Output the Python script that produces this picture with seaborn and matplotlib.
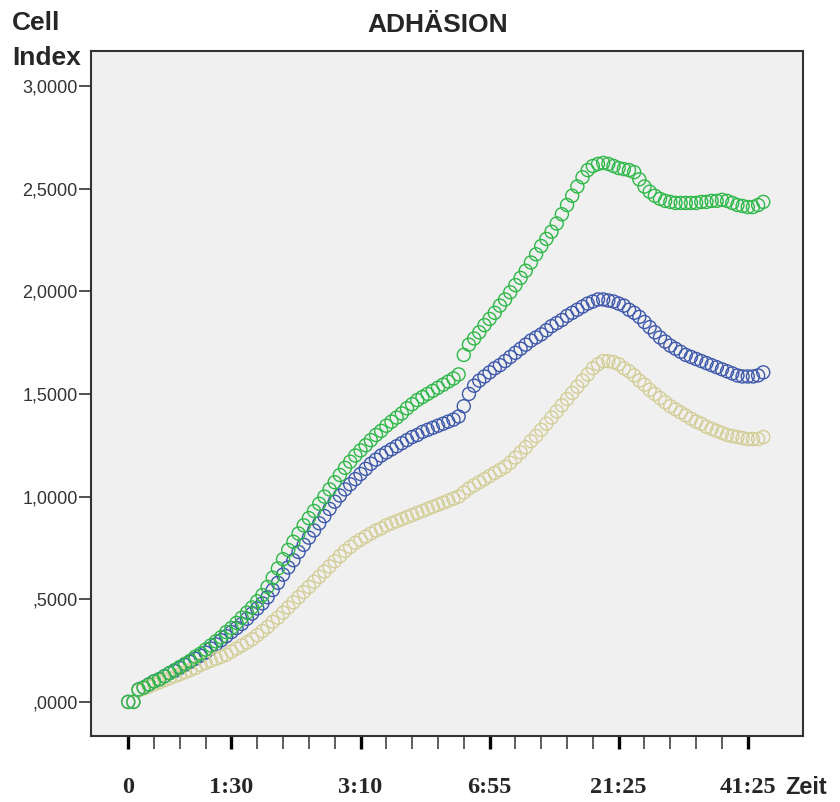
import numpy as np
import pandas as pd
import seaborn as sns
import matplotlib.pyplot as plt
from matplotlib.ticker import FixedLocator, FuncFormatter

# Cell index per sweep (one value per measurement point)
green = [0.00, 0.00, 0.06, 0.07, 0.085, 0.10, 0.11, 0.125, 0.14, 0.155,
         0.17, 0.185, 0.20, 0.22, 0.235, 0.255, 0.275, 0.295, 0.315, 0.34,
         0.36, 0.385, 0.41, 0.435, 0.46, 0.49, 0.52, 0.56, 0.605, 0.65,
         0.695, 0.74, 0.78, 0.82, 0.86, 0.895, 0.93, 0.965, 1.00, 1.035,
         1.07, 1.105, 1.14, 1.17, 1.20, 1.225, 1.25, 1.275, 1.30, 1.32,
         1.345, 1.365, 1.385, 1.405, 1.43, 1.45, 1.47, 1.485, 1.50, 1.515,
         1.53, 1.545, 1.56, 1.575, 1.595, 1.69, 1.74, 1.77, 1.80, 1.835,
         1.865, 1.895, 1.93, 1.96, 1.995, 2.03, 2.065, 2.10, 2.14, 2.18,
         2.22, 2.255, 2.29, 2.33, 2.375, 2.42, 2.465, 2.51, 2.555, 2.59,
         2.61, 2.62, 2.625, 2.62, 2.61, 2.60, 2.595, 2.59, 2.58, 2.545,
         2.51, 2.485, 2.465, 2.45, 2.44, 2.435, 2.43, 2.43, 2.43, 2.43,
         2.43, 2.435, 2.435, 2.44, 2.44, 2.445, 2.44, 2.43, 2.42, 2.415,
         2.41, 2.41, 2.42, 2.435]

blue = [0.00, 0.00, 0.06, 0.07, 0.085, 0.10, 0.11, 0.125, 0.14, 0.15,
        0.165, 0.18, 0.195, 0.21, 0.225, 0.24, 0.26, 0.28, 0.30, 0.32,
        0.34, 0.36, 0.38, 0.405, 0.43, 0.455, 0.48, 0.51, 0.545, 0.58,
        0.62, 0.655, 0.69, 0.73, 0.765, 0.80, 0.835, 0.87, 0.905, 0.94,
        0.975, 1.005, 1.035, 1.06, 1.085, 1.11, 1.135, 1.16, 1.18, 1.20,
        1.215, 1.23, 1.245, 1.26, 1.275, 1.29, 1.30, 1.315, 1.325, 1.335,
        1.345, 1.355, 1.365, 1.375, 1.39, 1.44, 1.50, 1.54, 1.565, 1.585,
        1.605, 1.625, 1.64, 1.66, 1.68, 1.70, 1.72, 1.74, 1.76, 1.775,
        1.79, 1.81, 1.83, 1.845, 1.86, 1.88, 1.895, 1.91, 1.925, 1.94,
        1.95, 1.96, 1.96, 1.955, 1.95, 1.94, 1.93, 1.91, 1.895, 1.875,
        1.85, 1.825, 1.80, 1.775, 1.755, 1.735, 1.72, 1.705, 1.69, 1.68,
        1.67, 1.66, 1.65, 1.64, 1.63, 1.62, 1.61, 1.60, 1.59, 1.585,
        1.585, 1.585, 1.59, 1.605]

beige = [0.00, 0.00, 0.055, 0.065, 0.075, 0.085, 0.095, 0.105, 0.115, 0.125,
         0.135, 0.145, 0.155, 0.165, 0.18, 0.19, 0.20, 0.21, 0.22, 0.23,
         0.245, 0.26, 0.275, 0.29, 0.305, 0.325, 0.345, 0.365, 0.39, 0.41,
         0.435, 0.46, 0.485, 0.51, 0.535, 0.56, 0.585, 0.61, 0.635, 0.66,
         0.685, 0.71, 0.735, 0.755, 0.775, 0.79, 0.805, 0.82, 0.835, 0.845,
         0.86, 0.87, 0.88, 0.89, 0.90, 0.91, 0.92, 0.93, 0.94, 0.95,
         0.96, 0.97, 0.98, 0.99, 1.00, 1.02, 1.04, 1.055, 1.07, 1.085,
         1.10, 1.115, 1.13, 1.145, 1.165, 1.19, 1.215, 1.24, 1.27, 1.295,
         1.325, 1.355, 1.385, 1.415, 1.445, 1.475, 1.505, 1.535, 1.565, 1.595,
         1.625, 1.645, 1.66, 1.66, 1.655, 1.645, 1.625, 1.61, 1.59, 1.565,
         1.545, 1.52, 1.50, 1.48, 1.46, 1.44, 1.425, 1.41, 1.395, 1.38,
         1.365, 1.355, 1.34, 1.33, 1.32, 1.31, 1.30, 1.295, 1.29, 1.285,
         1.28, 1.28, 1.28, 1.29]

# x axis: measurement index, labelled time points
time_labels = ["0", "1:30", "3:10", "6:55", "21:25", "41:25"]
label_pos = [0, 20, 45, 70, 95, 120]
y_ticks = [0.0, 0.5, 1.0, 1.5, 2.0, 2.5, 3.0]

sns.set_theme(style="white")
plt.rcParams["font.family"] = ["Liberation Sans", "DejaVu Sans"]

fig = plt.figure(figsize=(8.4, 8.02), dpi=100)
ax = fig.add_axes([91/840, 1-736/802, (803-91)/840, (736-51)/802])
ax.set_facecolor("#f0f0f0")

idx = np.arange(len(green))
series = [("blue", blue, "#3E58AC"), ("beige", beige, "#D3CE97"), ("green", green, "#2EB848")]
for name, vals, col in series:
    sns.scatterplot(x=idx, y=vals, ax=ax, marker="o", s=88,
                    facecolor="none", edgecolor=col, linewidth=1.0, legend=False)

ax.set_xlim(-7.2, 130.7)
ax.set_ylim(-0.166, 3.17)

# ticks
minor = [i for i in range(0, 121, 5) if i not in label_pos]
ax.xaxis.set_major_locator(FixedLocator(label_pos))
ax.xaxis.set_minor_locator(FixedLocator(minor))
ax.set_xticklabels(time_labels, fontfamily="Liberation Serif", fontweight="bold", fontsize=17.5)
ax.tick_params(axis="x", which="major", direction="out", length=9.5, width=2.4,
               color="black", pad=20, bottom=True)
ax.tick_params(axis="x", which="minor", direction="out", length=9.5, width=1.1,
               color="#333333", bottom=True)

ax.yaxis.set_major_locator(FixedLocator(y_ticks))
ax.yaxis.set_major_formatter(FuncFormatter(
    lambda v, p: ("%.4f" % v).replace(".", ",").lstrip("0") if v < 1 else ("%.4f" % v).replace(".", ",")))
ax.tick_params(axis="y", which="major", direction="out", length=8.6, width=1.2,
               color="#333333", pad=1, labelsize=13, labelcolor="#333333", left=True)

for sp in ax.spines.values():
    sp.set_color("#333333")
    sp.set_linewidth(1.5)
ax.set_xlabel("")
ax.set_ylabel("")

fig.text(12/840, 1-23/802, "Cell", ha="left", va="center", fontsize=19, fontweight="bold")
fig.text(12/840, 1-58/802, "Index", ha="left", va="center", fontsize=19, fontweight="bold")
fig.text(438/840, 1-25/802, "ADHÄSION", ha="center", va="center", fontsize=19, fontweight="bold")
fig.text(785/840, 1-787/802, "Zeit", ha="left", va="center", fontsize=17, fontweight="bold")

fig.savefig("out.png", dpi=100, facecolor="white")
